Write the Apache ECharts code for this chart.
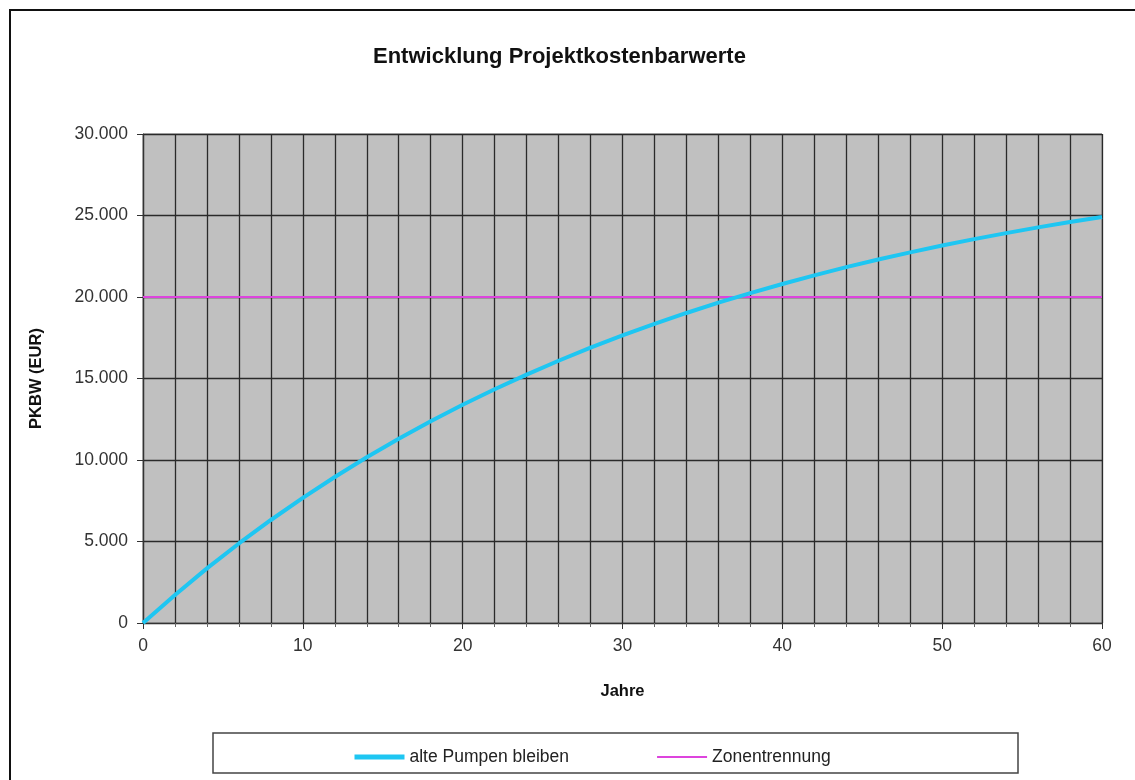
<!DOCTYPE html>
<html>
<head>
<meta charset="utf-8">
<script src="https://cdn.jsdelivr.net/npm/echarts@6/dist/echarts.min.js"></script>
<style>
  html, body { margin: 0; padding: 0; background: #fff; }
  #chart { width: 1135px; height: 780px; }
</style>
</head>
<body>
<div id="chart"></div>
<script>
// Years (x) and present value of project costs in EUR
var years = [0, 2, 4, 6, 8, 10, 12, 14, 16, 18, 20, 22, 24, 26, 28, 30,
             32, 34, 36, 38, 40, 42, 44, 46, 48, 50, 52, 54, 56, 58, 60];
var altePumpen = [0, 1720, 3350, 4880, 6320, 7680, 8960, 10170, 11300, 12380, 13390,
                  14340, 15240, 16090, 16890, 17640, 18350, 19020, 19650, 20240, 20800,
                  21330, 21830, 22300, 22740, 23160, 23550, 23920, 24270, 24600, 24910];
// Zone separation threshold, drawn across the whole period
var zonenYears = [0, 60];
var zonenWert = [20000, 20000];

var seriesNames = ['alte Pumpen bleiben', 'Zonentrennung'];
var cyan = '#1ec6f2';
var magenta = '#dd44dd';

function pairs(xs, ys) {
  return xs.map(function (x, i) { return [x, ys[i]]; });
}

var fontFam = '"Liberation Sans", Arial, sans-serif';
var chart = echarts.init(document.getElementById('chart'));

chart.setOption({
  animation: false,
  backgroundColor: '#ffffff',
  textStyle: { fontFamily: fontFam },
  graphic: [
    { type: 'rect', shape: { x: 10, y: 10, width: 1140, height: 800 },
      style: { fill: 'none', stroke: '#111', lineWidth: 2 }, z: -1 },
    { type: 'rect', shape: { x: 213, y: 733, width: 805, height: 40 },
      style: { fill: '#fff', stroke: '#444', lineWidth: 1.5 }, z: 0 }
  ],
  title: {
    text: 'Entwicklung Projektkostenbarwerte',
    left: 368, top: 41,
    textStyle: { fontFamily: fontFam, fontSize: 22, fontWeight: 'bold', color: '#111' }
  },
  legend: {
    data: [
      { name: seriesNames[0], lineStyle: { color: cyan, width: 5 } },
      { name: seriesNames[1], lineStyle: { color: magenta, width: 2 } }
    ],
    left: 347, top: 743,
    itemWidth: 50, itemHeight: 6, itemGap: 87,
    itemStyle: { opacity: 0 },
    textStyle: { fontFamily: fontFam, fontSize: 17.5, color: '#222' },
    z: 5
  },
  grid: {
    left: 143, right: 33, top: 134, bottom: 157,
    show: true, backgroundColor: '#c0c0c0', borderColor: '#8a8a8a', borderWidth: 1
  },
  xAxis: {
    type: 'value', min: 0, max: 60, interval: 10,
    name: 'Jahre', nameLocation: 'middle', nameGap: 60,
    nameTextStyle: { fontFamily: fontFam, fontSize: 16.5, fontWeight: 'bold', color: '#111' },
    axisLine: { show: true, lineStyle: { color: '#333', width: 1.2 } },
    axisTick: { show: true, length: 6, lineStyle: { color: '#333' } },
    minorTick: { show: true, splitNumber: 5, length: 4, lineStyle: { color: '#666' } },
    splitLine: { show: true, lineStyle: { color: '#2a2a2a', width: 1.3 } },
    minorSplitLine: { show: true, lineStyle: { color: '#2a2a2a', width: 1.3 } },
    axisLabel: { fontFamily: fontFam, fontSize: 17.5, color: '#333', margin: 14 }
  },
  yAxis: {
    type: 'value', min: 0, max: 30000, interval: 5000,
    name: 'PKBW (EUR)', nameLocation: 'middle', nameGap: 98, nameRotate: 90,
    nameTextStyle: { fontFamily: fontFam, fontSize: 16.5, fontWeight: 'bold', color: '#111' },
    axisLine: { show: true, lineStyle: { color: '#333', width: 1.2 } },
    axisTick: { show: true, length: 6, lineStyle: { color: '#333' } },
    splitLine: { show: true, lineStyle: { color: '#2a2a2a', width: 1.3 } },
    axisLabel: {
      fontFamily: fontFam, fontSize: 17.5, color: '#333', margin: 15,
      formatter: function (v) { return v === 0 ? '0' : (v / 1000) + '.000'; }
    }
  },
  series: [
    {
      name: seriesNames[0], type: 'line', symbol: 'none', smooth: false,
      data: pairs(years, altePumpen),
      lineStyle: { color: cyan, width: 4 },
      itemStyle: { color: cyan }, z: 4
    },
    {
      name: seriesNames[1], type: 'line', symbol: 'none',
      data: pairs(zonenYears, zonenWert),
      lineStyle: { color: magenta, width: 2 },
      itemStyle: { color: magenta }, z: 3
    }
  ]
});
</script>
</body>
</html>
